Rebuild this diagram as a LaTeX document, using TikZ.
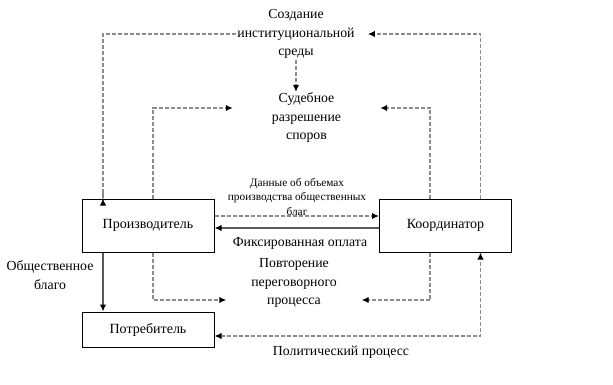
\documentclass[tikz,border=0pt]{standalone}
\usepackage{fontspec}
\setmainfont{Liberation Serif}
\usetikzlibrary{arrows.meta}
\begin{document}
\begin{tikzpicture}[x=1pt,y=-1pt,
		>={Latex[length=7pt,width=6.5pt,color=black]},
		box/.style={draw, line width=1pt, minimum width=132pt, minimum height=53pt, inner sep=0pt, font=\fontsize{14}{16}\selectfont},
		lbl/.style={align=center, inner sep=1pt, font=\fontsize{13.8}{18.5}\selectfont},
		small/.style={align=center, inner sep=1pt, font=\fontsize{11.3}{14.5}\selectfont},
		dsh/.style={draw=black!45, dash pattern=on 4pt off 2pt, line width=1.5pt, ->},
		sol/.style={draw=black!65, line width=1.5pt, ->}]
		\useasboundingbox (0,0) rectangle (613,385);
		\node[box] (prod) at (148,225.5) {Производитель};
		\node[box] (coord) at (445.5,225.5) {Координатор};
		\node[box, minimum height=35pt] (cons) at (148,329.5) {Потребитель};
		\node[lbl] (inst) at (296,34) {Создание\\институциональной\\среды};
		\node[lbl, minimum width=147pt] (court) at (306.5,118) {Судебное\\разрешение\\споров};
		\node[lbl, minimum width=135pt] (rep) at (294,283) {Повторение\\переговорного\\процесса};
		\node[small] (data) at (297,197) {Данные об объемах\\производства общественных\\благ};
		\node[lbl] (pay) at (300,243) {Фиксированная оплата};
		\node[lbl] (good) at (50,275) {Общественное\\благо};
		\node[lbl] (pol) at (341,352) {Политический процесс};
		\draw[dsh, -] (inst.west) -| ([xshift=-45pt]prod.north) [->] -- ([xshift=-45pt]prod.north);
		\draw[dsh] ([xshift=35pt]coord.north) |- ([xshift=12pt]inst.east);
		\draw[dsh] (inst.south) -- (inst.south |- court.north);
		\draw[dsh] ([xshift=5pt]prod.north) |- ([yshift=10pt]court.west);
		\draw[dsh] ([xshift=-15.5pt]coord.north) |- ([yshift=10pt]court.east);
		\draw[dsh] ([yshift=9.5pt]prod.east) -- ([yshift=9.5pt]coord.west);
		\draw[sol] ([yshift=-2.5pt]coord.west) -- ([yshift=-2.5pt]prod.east);
		\draw[dsh] ([xshift=5pt]prod.south) |- ([yshift=-17pt]rep.west);
		\draw[dsh] ([xshift=-15.5pt]coord.south) |- ([yshift=-17pt]rep.east);
		\draw[sol] ([xshift=-45pt]prod.south) -- ([xshift=-45pt]cons.north);
		\draw[dsh, <->] ([yshift=-6.5pt]cons.east) -| ([xshift=35pt]coord.south);
\end{tikzpicture}
\end{document}
